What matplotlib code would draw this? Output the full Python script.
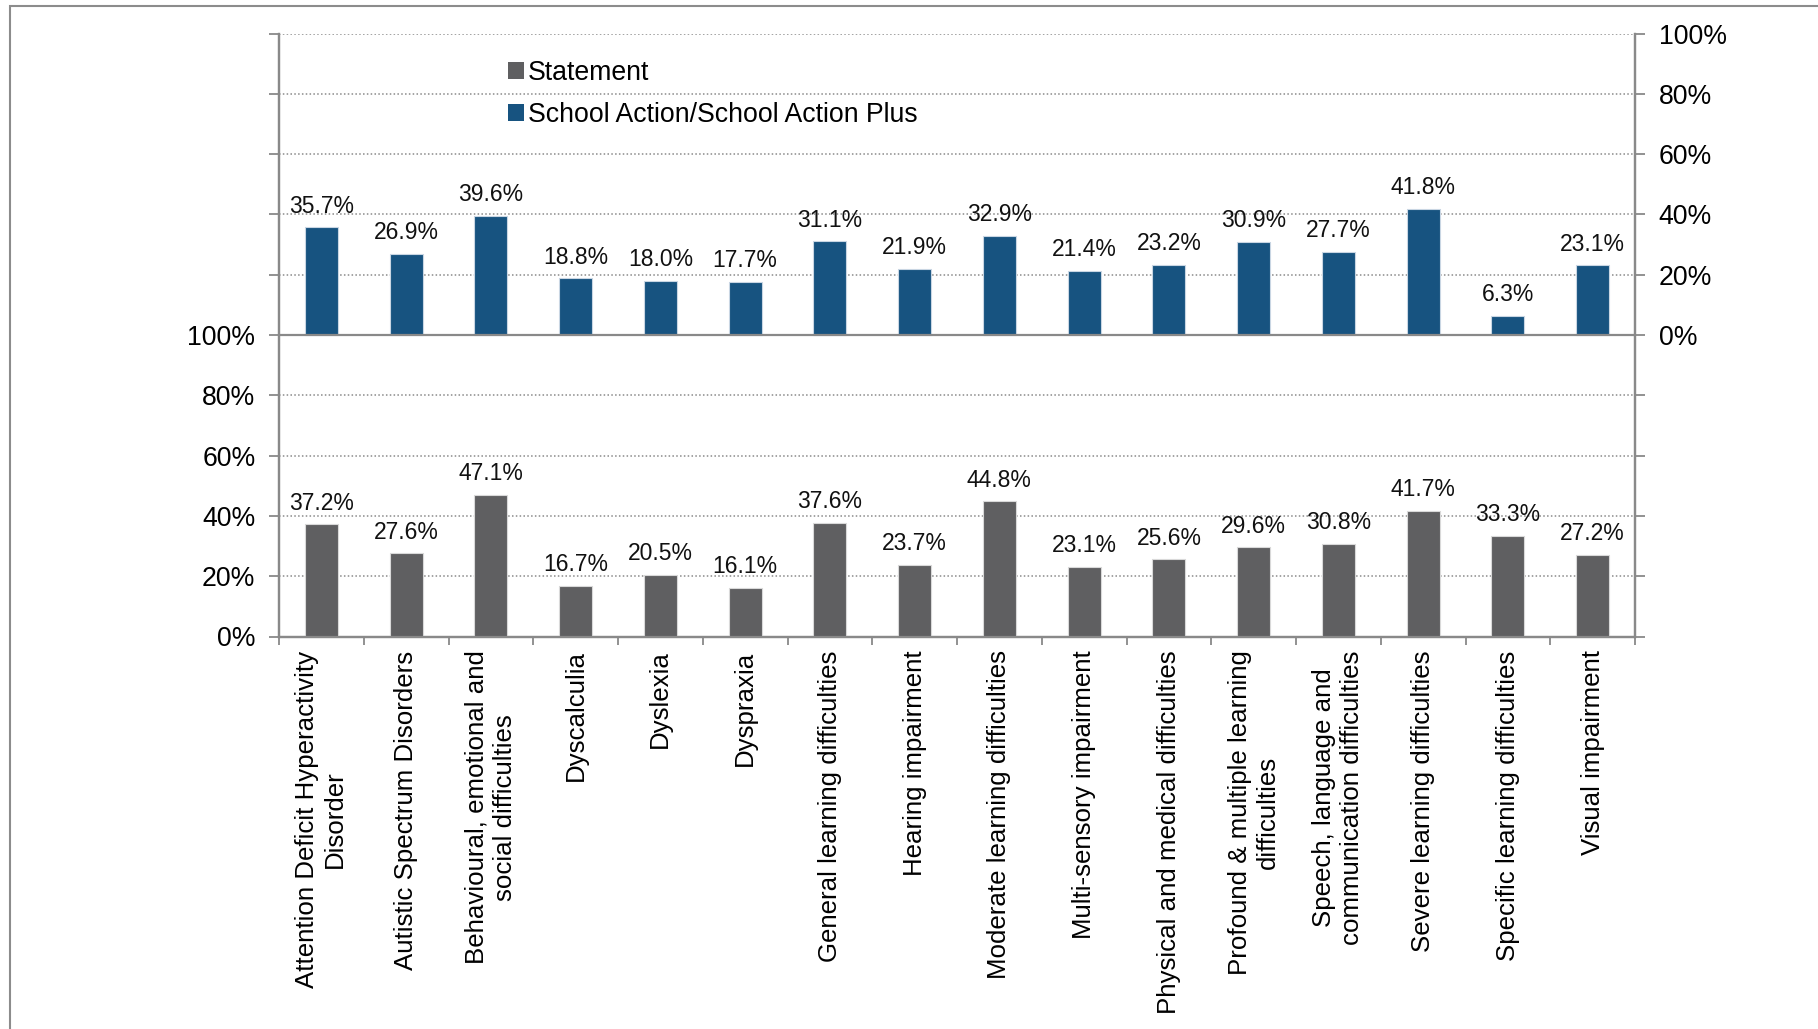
import matplotlib
matplotlib.use("Agg")
import matplotlib.pyplot as plt
from matplotlib.patches import Rectangle, Patch
import numpy as np

plt.rcParams['font.family'] = ['Liberation Sans', 'DejaVu Sans']

categories = [
    "Attention Deficit Hyperactivity\nDisorder",
    "Autistic Spectrum Disorders",
    "Behavioural, emotional and\nsocial difficulties",
    "Dyscalculia",
    "Dyslexia",
    "Dyspraxia",
    "General learning difficulties",
    "Hearing impairment",
    "Moderate learning difficulties",
    "Multi-sensory impairment",
    "Physical and medical difficulties",
    "Profound & multiple learning\ndifficulties",
    "Speech, language and\ncommunication difficulties",
    "Severe learning difficulties",
    "Specific learning difficulties",
    "Visual impairment",
]
statement = [37.2, 27.6, 47.1, 16.7, 20.5, 16.1, 37.6, 23.7, 44.8, 23.1, 25.6, 29.6, 30.8, 41.7, 33.3, 27.2]
school_action = [35.7, 26.9, 39.6, 18.8, 18.0, 17.7, 31.1, 21.9, 32.9, 21.4, 23.2, 30.9, 27.7, 41.8, 6.3, 23.1]
series_names = ["Statement", "School Action/School Action Plus"]
pct_ticks = [0, 20, 40, 60, 80, 100]

GREY = '#5f5f61'
BLUE = '#175380'
AXC = '#898989'

W, H = 1818, 1029
fig = plt.figure(figsize=(W / 100, H / 100), dpi=100)

# outer frame (cut off at right and bottom)
fig.patches.append(Rectangle((10 / W, -0.1), 1.2, 1.1 - 6 / H, transform=fig.transFigure,
                             fill=False, edgecolor='#8c8c8c', linewidth=1.5))

ax = fig.add_axes([279 / W, 1 - 636.5 / H, (1635 - 279) / W, (636.5 - 33.6) / H])
n = len(categories)
x = np.arange(n)
bw = 0.39
ax.bar(x, statement, width=bw, color=GREY, edgecolor='#d9d9d9', linewidth=0.8, zorder=3)
ax.bar(x, school_action, width=bw, bottom=100, color=BLUE, edgecolor='#c9d6e3', linewidth=0.8, zorder=3)

for xi, v in zip(x, statement):
    ax.annotate(f"{v:.1f}%", (xi, v), xytext=(0, 7), textcoords='offset points',
                ha='center', va='bottom', fontsize=16.5, color='#111111')
for xi, v in zip(x, school_action):
    ax.annotate(f"{v:.1f}%", (xi, 100 + v), xytext=(0, 7), textcoords='offset points',
                ha='center', va='bottom', fontsize=16.5, color='#111111')

ax.set_xlim(-0.5, n - 0.5)
ax.set_ylim(0, 200)

yt = pct_ticks + [100 + t for t in pct_ticks[1:]]
ax.set_yticks(yt)
ax.set_yticklabels([f"{t}%" for t in pct_ticks] + [""] * 5)
for t in yt:
    if t not in (0, 100):
        ax.axhline(t, color='#8a8a8a', linestyle=(0, (1, 1.5)), linewidth=1.1, zorder=1)
ax.axhline(100, color=AXC, linewidth=1.6, zorder=4)

ax2 = ax.twinx()
ax2.set_ylim(0, 200)
ax2.set_yticks(yt)
ax2.set_yticklabels([""] * 5 + [f"{t}%" for t in pct_ticks])

ax.set_xticks(x)
ax.set_xticklabels(categories, rotation=90, ha='center', va='top', multialignment='center', fontsize=18.6)
ax.set_xticks(np.arange(n + 1) - 0.5, minor=True)
ax.tick_params(axis='x', which='major', length=0, pad=10)
ax.tick_params(axis='x', which='minor', length=6, width=1.3, color=AXC)

ax.tick_params(axis='y', length=7, width=1.3, color=AXC, labelsize=19.2, pad=10)
ax2.tick_params(axis='y', length=7, width=1.3, color=AXC, labelsize=19.2, pad=10)
for a in (ax, ax2):
    for s in a.spines.values():
        s.set_color(AXC)
        s.set_linewidth(1.6)
    a.spines['top'].set_visible(False)

handles = [Patch(facecolor=GREY, edgecolor='none'), Patch(facecolor=BLUE, edgecolor='none')]
fig.legend(handles, series_names, loc='upper left', bbox_to_anchor=(508 / W, 1 - 60 / H),
           frameon=False, fontsize=19.2, handlelength=0.6, handleheight=0.6,
           handletextpad=0.15, labelspacing=0.6, borderpad=0, borderaxespad=0)

fig.savefig("out.png", dpi=100)
